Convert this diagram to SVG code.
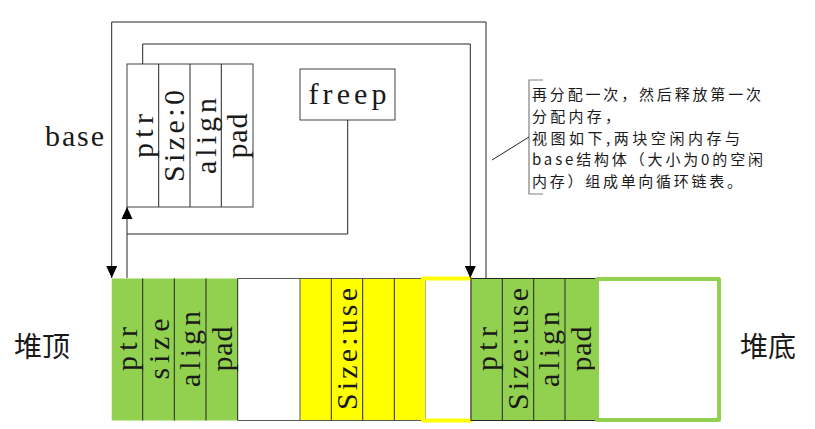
<svg xmlns="http://www.w3.org/2000/svg" width="815" height="429" viewBox="0 0 815 429">
<style>
.bg{fill:#ffffff}
.cell{stroke:#262626;stroke-width:1}
.green{fill:#92D050}
.yellow{fill:#FFFF00}
.box{fill:#ffffff;stroke:#404040;stroke-width:1}
.conn{fill:none;stroke:#262626;stroke-width:1}
.vt{font-family:"Liberation Serif","DejaVu Serif",serif;font-size:30px;fill:#1a1a1a;text-anchor:middle}
.ht{font-family:"Liberation Serif","DejaVu Serif",serif;font-size:30px;fill:#1a1a1a}
.cjk{font-family:"Noto Sans CJK SC",sans-serif;fill:#1a1a1a}
.note{font-family:"Noto Sans CJK SC",sans-serif;font-size:15px;fill:#1a1a1a}
</style>
<defs>
<marker id="arr" viewBox="0 0 12 12" markerWidth="12" markerHeight="12" refX="12" refY="6" orient="auto" markerUnits="userSpaceOnUse">
<path d="M0,0.5 L12,6 L0,11.5 z" fill="#000"/>
</marker>
</defs>
<rect class="bg" x="0" y="0" width="815" height="429"/>

<g id="base-struct">
<rect class="box" x="127" y="64" width="126" height="143"/>
<line class="cell" x1="158.7" y1="64" x2="158.7" y2="207"/>
<line class="cell" x1="190" y1="64" x2="190" y2="207"/>
<line class="cell" x1="221.3" y1="64" x2="221.3" y2="207"/>
<g transform="translate(142.8,136) rotate(-90)"><text class="vt" x="0" y="10" textLength="44">ptr</text></g>
<g transform="translate(174.4,136) rotate(-90)"><text class="vt" x="0" y="10" textLength="92">Size:0</text></g>
<g transform="translate(205.6,136) rotate(-90)"><text class="vt" x="0" y="10" textLength="76">align</text></g>
<g transform="translate(237.1,136) rotate(-90)"><text class="vt" x="0" y="10" textLength="45">pad</text></g>
</g>

<g id="freep">
<rect class="box" x="300" y="69" width="95" height="51"/>
<text class="ht" x="347.5" y="104" text-anchor="middle" textLength="78">freep</text>
</g>

<g id="base-label">
<text class="ht" x="45" y="146" textLength="59">base</text>
</g>

<g id="heap-top-label">
<text class="cjk" x="14" y="357" font-size="28">堆顶</text>
</g>
<g id="heap-bottom-label">
<text class="cjk" x="740" y="357" font-size="28">堆底</text>
</g>

<g id="block1">
<rect class="green" x="111.7" y="278.5" width="126" height="142"/>
<line class="cell" x1="142.7" y1="278.5" x2="142.7" y2="420.5"/>
<line class="cell" x1="174.3" y1="278.5" x2="174.3" y2="420.5"/>
<line class="cell" x1="206" y1="278.5" x2="206" y2="420.5"/>
<line class="cell" x1="237.7" y1="278.5" x2="237.7" y2="420.5"/>
<g transform="translate(127.2,349) rotate(-90)"><text class="vt" x="0" y="10" textLength="44">ptr</text></g>
<g transform="translate(158.5,349) rotate(-90)"><text class="vt" x="0" y="10" textLength="61">size</text></g>
<g transform="translate(190.1,349) rotate(-90)"><text class="vt" x="0" y="10" textLength="76">align</text></g>
<g transform="translate(221.8,349) rotate(-90)"><text class="vt" x="0" y="10" textLength="45">pad</text></g>
</g>

<g id="free-gap">
<line stroke="#595959" stroke-width="1" x1="237.7" y1="278.5" x2="300" y2="278.5"/>
<line stroke="#595959" stroke-width="1" x1="237.7" y1="420.5" x2="300" y2="420.5"/>
</g>

<g id="block2">
<rect class="yellow" x="300" y="278.5" width="125" height="142" stroke="#595959" stroke-width="1"/>
<line class="cell" x1="331.3" y1="278.5" x2="331.3" y2="420.5"/>
<line class="cell" x1="362.7" y1="278.5" x2="362.7" y2="420.5"/>
<line class="cell" x1="394.3" y1="278.5" x2="394.3" y2="420.5"/>
<g transform="translate(347,349) rotate(-90)"><text class="vt" x="0" y="10" textLength="122">Size:use</text></g>
</g>

<g id="block2-free">
<line stroke="#808080" stroke-width="1" x1="471" y1="278.5" x2="471" y2="420.5"/>
<path d="M471,278.5 H423 V420.5 H471" fill="none" stroke="#FFFF00" stroke-width="4" stroke-linecap="round" stroke-linejoin="round"/>
</g>

<g id="block3">
<rect class="green" x="471" y="278.5" width="125" height="142" stroke="#262626" stroke-width="1"/>
<line class="cell" x1="502.3" y1="278.5" x2="502.3" y2="420.5"/>
<line class="cell" x1="533.7" y1="278.5" x2="533.7" y2="420.5"/>
<line class="cell" x1="565" y1="278.5" x2="565" y2="420.5"/>
<g transform="translate(486.7,349) rotate(-90)"><text class="vt" x="0" y="10" textLength="44">ptr</text></g>
<g transform="translate(518,349) rotate(-90)"><text class="vt" x="0" y="10" textLength="122">Size:use</text></g>
<g transform="translate(549.3,349) rotate(-90)"><text class="vt" x="0" y="10" textLength="76">align</text></g>
<g transform="translate(580.5,349) rotate(-90)"><text class="vt" x="0" y="10" textLength="45">pad</text></g>
</g>

<g id="block3-free">
<rect x="597" y="279" width="122" height="141" fill="#ffffff" stroke="#92D050" stroke-width="4" stroke-linejoin="round"/>
</g>

<g id="annotation">
<path d="M543,80 H529 V194 H543" fill="none" stroke="#808080" stroke-width="1.2"/>
<line x1="492" y1="160" x2="529" y2="137" stroke="#262626" stroke-width="1"/>
<text class="note" x="532" y="100" textLength="229">再分配一次，然后释放第一次</text>
<text class="note" x="532" y="121.75" textLength="88">分配内存，</text>
<text class="note" x="532" y="143.5" textLength="208">视图如下,两块空闲内存与</text>
<text class="note" x="532" y="165.25" textLength="231">base结构体（大小为0的空闲</text>
<text class="note" x="532" y="187" textLength="210">内存）组成单向循环链表。</text>
</g>

<g id="connectors">
<path class="conn" d="M486,278 V22 H111.7 V278" marker-end="url(#arr)"/>
<path class="conn" d="M142.7,64 V44 H470.3 V278" marker-end="url(#arr)"/>
<path class="conn" d="M347.7,120 V234 H127"/>
<path class="conn" d="M127,278 V207" marker-end="url(#arr)"/>
</g>
</svg>
